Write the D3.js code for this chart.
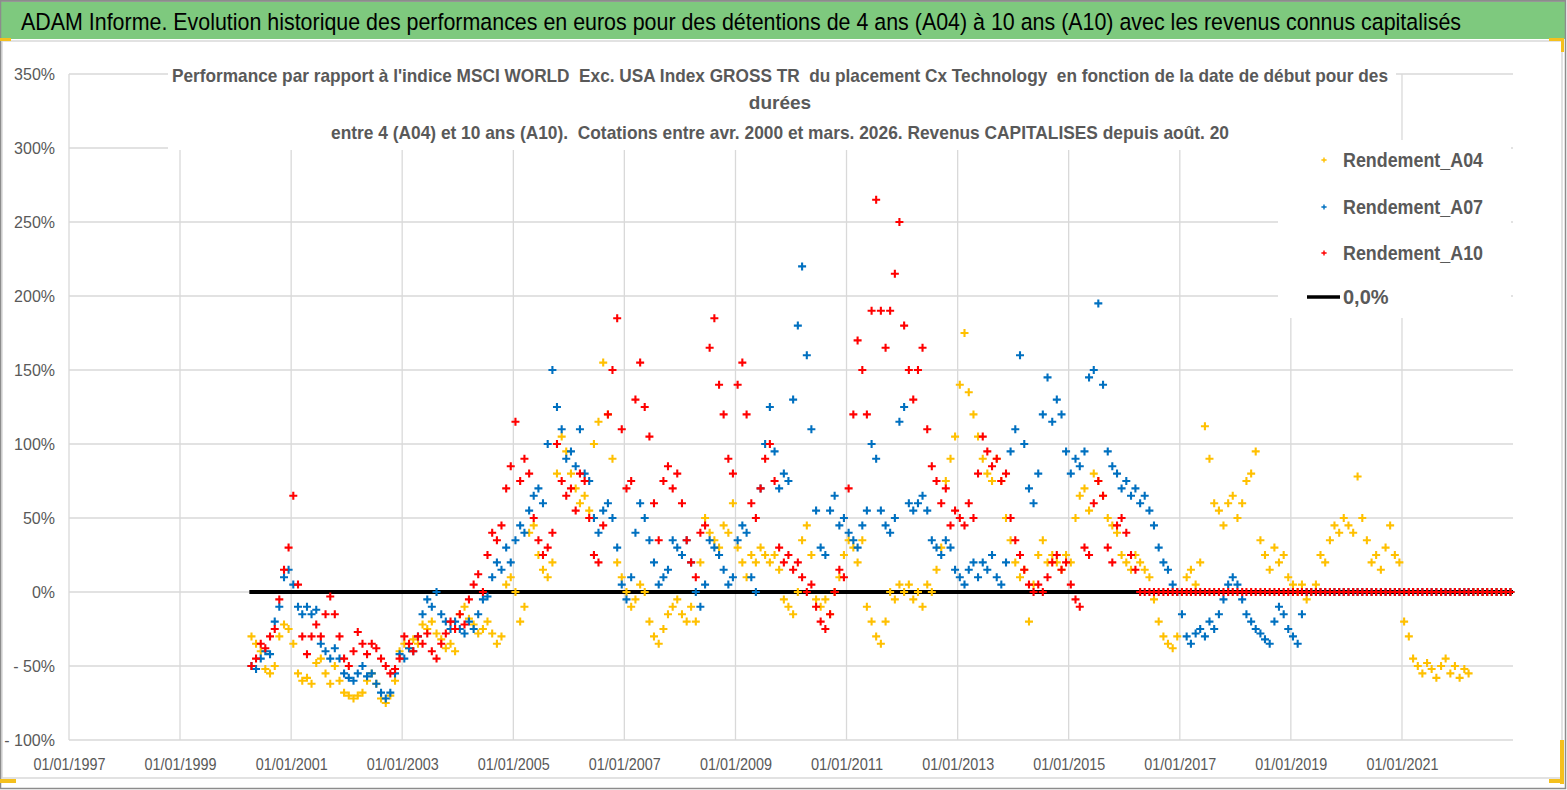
<!DOCTYPE html>
<html>
<head>
<meta charset="utf-8">
<script src="https://cdn.jsdelivr.net/npm/d3@7"></script>
<style>
  body { margin: 0; background: #fff; }
  svg { display: block; }
  .keep { white-space: pre; }
</style>
</head>
<body>
<div id="chart"></div>
<script>
// ---- data (monthly, first month = avr. 2000) ----
const startMonth = "2000-04-15";
const endDate = "2023-01-01";

const mainTitle =
  "ADAM Informe. Evolution historique des performances en euros pour des détentions de 4 ans (A04) à 10 ans (A10) avec les revenus connus capitalisés";
const subTitle = [
  "Performance par rapport à l'indice MSCI WORLD  Exc. USA Index GROSS TR  du placement Cx Technology  en fonction de la date de début pour des",
  "durées",
  "entre 4 (A04) et 10 ans (A10).  Cotations entre avr. 2000 et mars. 2026. Revenus CAPITALISES depuis août. 20"
];

const xTickLabels = [
  "01/01/1997", "01/01/1999", "01/01/2001", "01/01/2003", "01/01/2005",
  "01/01/2007", "01/01/2009", "01/01/2011", "01/01/2013", "01/01/2015",
  "01/01/2017", "01/01/2019", "01/01/2021"
];
const yTicks = [-100, -50, 0, 50, 100, 150, 200, 250, 300, 350];

const seriesNames = ["Rendement_A04", "Rendement_A07", "Rendement_A10"];
const seriesColors = ["#ffc000", "#0070c0", "#ff0000"];
const zeroLabel = "0,0%";

// one row per calendar year (first row = avr.-déc. 2000)
const rendementA04 = [
  -30, -35, -40, -52, -55, -50, -30, -22, -25,
  -35, -55, -60, -58, -62, -48, -45, -55, -62, -50, -60, -68,
  -70, -72, -70, -68, -60, -55, -62, -72, -75, -70, -60, -40,
  -35, -38, -32, -35, -22, -25, -20, -28, -32, -38, -35, -40,
  -15, -10, -18, -22, -28, -25, -20, -28, -35, -30, 5, 10,
  0, -20, -10, 40, 45, 25, 15, 10, 20, 80, 105, 95,
  80, 70, 60, 65, 55, 100, 115, 155, 120, 90, 20, 10,
  0, -10, -5, 5, 0, -20, -30, -35, -25, -15, -10, -5,
  -15, -20, -10, -20, 20, 50, 40, 35, 30, 45, 40, 60,
  30, 20, 10, 25, 20, 30, 25, 20, 25, 15, -5, -10,
  -15, 0, 35, 45, 25, -5, -10, -5, -15, 0, 10, 25,
  35, 30, 20, 35, -10, -20, -30, -35, -20, 0, -5, 5,
  0, 5, -5, 0, -10, 5, 0, 15, 30, 75, 90, 105,
  140, 175, 135, 120, 105, 90, 80, 75, 90, 75, 50, 35,
  20, 10, 15, -20, 5, 25, 35, 20, 25, 20, 15, 25,
  20, 50, 65, 70, 55, 80, 75, 65, 50, 45, 40, 25,
  20, 15, 25, 20, 15, 10, -5, -20, -30, -35, -38, -30,
  0, 10, 15, 5, 20, 112, 90, 60, 55, 45, 60, 65,
  50, 60, 75, 80, 95, 35, 25, 15, 30, 20, 25, 10,
  5, 0, 5, -5, 0, 5, 25, 20, 35, 45, 40, 50,
  45, 40, 78, 50, 35, 20, 25, 15, 30, 45, 25, 20,
  -20, -30, -45, -50, -55, -48, -52, -58, -50, -45, -55, -50,
  -58, -52, -55, 0, 0, 0, 0, 0, 0, 0, 0, 0
];

const rendementA07 = [
  -50, -52, -45, -40, -42, -20, -10, 10, 15,
  5, -10, -15, -10, -15, -12, -35, -40, -45, -38, -45, -55,
  -58, -60, -55, -50, -57, -55, -62, -68, -72, -68, -55, -42,
  -45, -38, -40, -30, -15, -5, -10, 0, -15, -20, -25, -20,
  -25, -28, -20, -25, -15, -5, -3, 10, 20, 15, 30, 20,
  35, 45, 40, 55, 65, 70, 60, 100, 150, 125, 110, 90,
  95, 85, 110, 80, 75, 50, 40, 55, 60, 50, 30, 5,
  -5, 10, 40, 60, 50, 35, 20, 5, 10, 15, 35, 30,
  25, 35, 20, 0, -10, 5, 35, 30, 25, 15, 5, 10,
  35, 45, 40, 10, 0, 70, 100, 125, 95, 70, 80, 75,
  130, 180, 220, 160, 110, 55, 30, 25, 55, 65, 45, 50,
  40, 35, 30, 45, 55, 100, 90, 55, 45, 40, 50, 115,
  125, 60, 55, 60, 65, 55, 35, 30, 25, 35, 30, 15,
  10, 5, 15, 20, 10, 20, 15, 25, 10, 5, 20, 95,
  110, 160, 100, 70, 60, 80, 120, 145, 115, 130, 120, 95,
  80, 90, 85, 95, 145, 150, 195, 140, 95, 85, 80, 70,
  75, 65, 70, 60, 65, 55, 45, 30, 20, 15, 5, 0,
  -15, -30, -35, -28, -25, -30, -20, -25, -15, -5, 5, 10,
  5, -5, -15, -20, -25, -28, -32, -35, -20, -10, -15, -25,
  -30, -35, -15, 0, 0, 0, 0, 0, 0, 0, 0, 0,
  0, 0, 0, 0, 0, 0, 0, 0, 0, 0, 0, 0,
  0, 0, 0, 0, 0, 0, 0, 0, 0, 0, 0, 0,
  0, 0, 0, 0, 0, 0, 0, 0, 0, 0, 0, 0
];

const rendementA10 = [
  -50, -45, -35, -38, -30, -25, -5, 15, 30,
  65, 5, -30, -42, -30, -22, -30, -15, -3, -15, -30, -45,
  -50, -40, -27, -35, -42, -35, -38, -45, -50, -55, -52, -45,
  -30, -35, -40, -30, -35, -28, -40, -45, -35, -28, -20, -25,
  -15, -22, -5, 5, 12, 0, 25, 40, 35, 45, 70, 85,
  115, 75, 90, 80, 50, 35, 25, 30, 40, 100, 75, 65,
  70, 55, 80, 75, 50, 25, 20, 45, 120, 150, 185, 110,
  70, 75, 130, 155, 125, 105, 60, 35, 75, 85, 70, 80,
  60, 35, 20, 10, 40, 45, 165, 185, 140, 120, 90, 80,
  140, 155, 120, 60, 50, 70, 90, 100, 75, 30, 20, 25,
  15, 20, 10, 0, 5, -10, -20, -25, -15, 0, 15, 10,
  70, 120, 170, 150, 120, 190, 265, 190, 165, 190, 215, 250,
  180, 150, 130, 150, 165, 110, 85, 75, 60, 70, 45, 55,
  50, 45, 60, 50, 80, 105, 95, 85, 90, 75, 80, 50,
  35, 25, 15, 5, 0, 5, 0, 10, 20, 25, 15, 20,
  5, -5, -10, 30, 25, 60, 75, 65, 30, 20, 45, 50,
  40, 25, 15, 0, 0, 0, 0, 0, 0, 0, 0, 0,
  0, 0, 0, 0, 0, 0, 0, 0, 0, 0, 0, 0,
  0, 0, 0, 0, 0, 0, 0, 0, 0, 0, 0, 0,
  0, 0, 0, 0, 0, 0, 0, 0, 0, 0, 0, 0,
  0, 0, 0, 0, 0, 0, 0, 0, 0, 0, 0, 0,
  0, 0, 0, 0, 0, 0, 0, 0, 0, 0, 0, 0,
  0, 0, 0, 0, 0, 0, 0, 0, 0, 0, 0, 0
];

// ---- layout ----
const W = 1567, H = 790;
const plot = { left: 69, right: 1513, top: 74, bottom: 740 };
const grey = "#595959";
const narrow = "'Liberation Sans Narrow', 'Arial Narrow', 'Liberation Sans', Arial, sans-serif";

const parseDay = d3.timeParse("%Y-%m-%d");
const parseTick = d3.timeParse("%d/%m/%Y");
const start = parseDay(startMonth);

const xScale = d3
  .scaleTime()
  .domain([parseTick("01/01/1997"), parseDay(endDate)])
  .range([plot.left, plot.right]);

const yScale = d3
  .scaleLinear()
  .domain([-100, 350])
  .range([plot.bottom, plot.top]);

const svg = d3
  .select("#chart")
  .append("svg")
  .attr("width", W)
  .attr("height", H);

svg.append("rect").attr("width", W).attr("height", H).attr("fill", "#fff");

/* Title band */
svg
  .append("rect")
  .attr("x", 0)
  .attr("y", 2)
  .attr("width", 1565)
  .attr("height", 37)
  .attr("fill", "#7ec97e");
svg
  .append("line")
  .attr("x1", 0).attr("x2", 1566)
  .attr("y1", 1).attr("y2", 1)
  .attr("stroke", "#9a9a9a")
  .attr("stroke-width", 2);
svg
  .append("text")
  .attr("transform", "translate(21,30) scale(1,1.18)")
  .attr("font-family", narrow)
  .attr("font-size", 21)
  .attr("fill", "#000")
  .attr("textLength", 1440)
  .attr("lengthAdjust", "spacingAndGlyphs")
  .text(mainTitle);

/* Chart frame */
svg
  .append("rect")
  .attr("x", 2)
  .attr("y", 41)
  .attr("width", 1560)
  .attr("height", 737)
  .attr("fill", "none")
  .attr("stroke", "#d9d9d9")
  .attr("stroke-width", 1.5);
svg
  .append("rect")
  .attr("x", 0.5)
  .attr("y", 0.5)
  .attr("width", 1565)
  .attr("height", 788)
  .attr("fill", "none")
  .attr("stroke", "#8c8c8c")
  .attr("stroke-width", 1.5);

/* Selection handles (yellow) */
const handle = "#f4c01e";
svg.append("rect").attr("x", 0).attr("y", 38).attr("width", 11).attr("height", 3).attr("fill", handle);
svg.append("rect").attr("x", 1549).attr("y", 38).attr("width", 15).attr("height", 3).attr("fill", handle);
svg.append("rect").attr("x", 1561).attr("y", 38).attr("width", 3).attr("height", 14).attr("fill", handle);
svg.append("rect").attr("x", 0).attr("y", 779).attr("width", 16).attr("height", 4).attr("fill", handle);
svg.append("rect").attr("x", 1560).attr("y", 740).attr("width", 4).attr("height", 44).attr("fill", handle);
svg.append("rect").attr("x", 1549).attr("y", 779).attr("width", 15).attr("height", 4).attr("fill", handle);

/* Grid */
const xTickDates = xTickLabels.map(parseTick);
const gGrid = svg.append("g");
gGrid
  .selectAll(".hgrid")
  .data(yTicks)
  .join("line")
  .attr("class", "hgrid")
  .attr("x1", plot.left)
  .attr("x2", plot.right)
  .attr("y1", (d) => yScale(d))
  .attr("y2", (d) => yScale(d))
  .attr("stroke", "#d9d9d9")
  .attr("stroke-width", 1.3);
gGrid
  .selectAll(".vgrid")
  .data(xTickDates)
  .join("line")
  .attr("class", "vgrid")
  .attr("x1", (d) => xScale(d))
  .attr("x2", (d) => xScale(d))
  .attr("y1", plot.top)
  .attr("y2", plot.bottom)
  .attr("stroke", "#d9d9d9")
  .attr("stroke-width", 1.3);

/* Axis labels */
const yAxis = d3
  .axisLeft(yScale)
  .tickValues(yTicks)
  .tickSize(0)
  .tickPadding(14)
  .tickFormat((d) => (d < 0 ? "- " + Math.abs(d) + "%" : d + "%"));
svg
  .append("g")
  .attr("transform", `translate(${plot.left},0)`)
  .call(yAxis)
  .call((g) => g.select(".domain").remove())
  .call((g) =>
    g
      .selectAll(".tick text")
      .attr("font-family", narrow)
      .attr("font-size", 16)
      .attr("fill", grey)
  );

const xAxis = d3
  .axisBottom(xScale)
  .tickValues(xTickDates)
  .tickSize(0)
  .tickPadding(18)
  .tickFormat((d, i) => xTickLabels[i]);
svg
  .append("g")
  .attr("transform", `translate(0,${plot.bottom})`)
  .call(xAxis)
  .call((g) => g.select(".domain").remove())
  .call((g) =>
    g
      .selectAll(".tick text")
      .attr("font-family", narrow)
      .attr("font-size", 17)
      .attr("fill", grey)
      .attr("textLength", 72)
      .attr("lengthAdjust", "spacingAndGlyphs")
  );

/* Reference line 0% */
const zeroLine = d3.line().x((d) => xScale(d)).y(() => yScale(0));
svg
  .append("path")
  .datum([d3.timeMonth.floor(start), parseDay(endDate)])
  .attr("d", zeroLine)
  .attr("stroke", "#000")
  .attr("stroke-width", 4)
  .attr("fill", "none");

/* Scatter series */
const plus = "M-4,0H4M0,-4V4";
const allSeries = [rendementA04, rendementA07, rendementA10];
allSeries.forEach((values, k) => {
  const pts = values.map((v, i) => ({ date: d3.timeMonth.offset(start, i), v: v }));
  svg
    .append("g")
    .selectAll("path")
    .data(pts)
    .join("path")
    .attr("transform", (d) => `translate(${xScale(d.date)},${yScale(d.v)})`)
    .attr("d", plus)
    .attr("stroke", seriesColors[k])
    .attr("stroke-width", 2.1)
    .attr("fill", "none");
});

/* Chart title box (white, hides the grid) */
const gTitle = svg.append("g");
gTitle
  .append("rect")
  .attr("x", 168)
  .attr("y", 58)
  .attr("width", 1228)
  .attr("height", 92)
  .attr("fill", "#fff");
const subY = [82, 109, 139];
const subLen = [1216, null, 898];
subTitle.forEach((line, i) => {
  const t = gTitle
    .append("text")
    .attr("class", "keep")
    .attr("x", 780)
    .attr("y", subY[i])
    .attr("text-anchor", "middle")
    .attr("font-family", narrow)
    .attr("font-size", 19)
    .attr("font-weight", "bold")
    .attr("fill", grey)
    .text(line);
  if (subLen[i]) t.attr("textLength", subLen[i]).attr("lengthAdjust", "spacingAndGlyphs");
});

/* Legend */
const gLegend = svg.append("g");
gLegend
  .append("rect")
  .attr("x", 1278)
  .attr("y", 140)
  .attr("width", 233)
  .attr("height", 178)
  .attr("fill", "#fff");
const legendY = [160, 207, 253];
seriesNames.forEach((name, k) => {
  gLegend
    .append("path")
    .attr("transform", `translate(1324,${legendY[k]})`)
    .attr("d", "M-2.6,0H2.6M0,-2.6V2.6")
    .attr("stroke", seriesColors[k])
    .attr("stroke-width", 1.4);
  gLegend
    .append("text")
    .attr("x", 1343)
    .attr("y", legendY[k])
    .attr("dy", "0.35em")
    .attr("font-family", narrow)
    .attr("font-size", 20)
    .attr("font-weight", "bold")
    .attr("fill", grey)
    .attr("textLength", 140)
    .attr("lengthAdjust", "spacingAndGlyphs")
    .text(name);
});
gLegend
  .append("line")
  .attr("x1", 1307)
  .attr("x2", 1340)
  .attr("y1", 297)
  .attr("y2", 297)
  .attr("stroke", "#000")
  .attr("stroke-width", 3.5);
gLegend
  .append("text")
  .attr("x", 1343)
  .attr("y", 297)
  .attr("dy", "0.35em")
  .attr("font-family", narrow)
  .attr("font-size", 20)
  .attr("font-weight", "bold")
  .attr("fill", grey)
  .text(zeroLabel);
</script>
</body>
</html>
